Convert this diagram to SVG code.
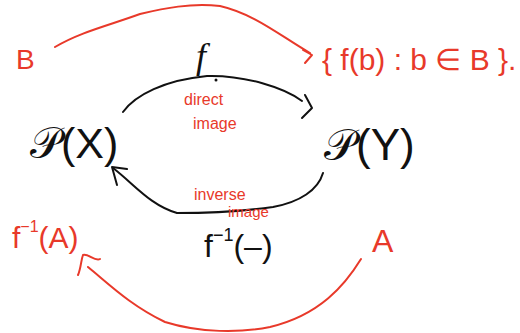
<svg xmlns="http://www.w3.org/2000/svg" width="520" height="333" viewBox="0 0 520 333">
<style>
.r{fill:#e8392a;font-family:"Liberation Sans",sans-serif}
.k{fill:#111;font-family:"Liberation Sans",sans-serif}
.rl{fill:none;stroke:#e8392a;stroke-width:2;stroke-linecap:round;stroke-linejoin:round}
.kl{fill:none;stroke:#111;stroke-width:2;stroke-linecap:round;stroke-linejoin:round}
</style>
<rect width="520" height="333" fill="#fff"/>
<g id="connectors">
<path class="rl" d="M55,47 C80,32 110,25 140,14 C165,8 190,3 220,6 C255,14 282,37 310,53"/>
<path class="rl" d="M303,50 L312,55 L305,63"/>
<path class="kl" d="M123,112 C135,95 165,80 207,76 C245,75 285,88 302,101"/>
<path class="kl" d="M305,95 L312,108 L302,118"/>
<path class="kl" d="M323,173 C318,190 300,202 273,207 C245,211 205,213 177,213 C150,205 135,185 113,168"/>
<path class="kl" d="M117,185 L112,167 L127,169"/>
<path class="rl" d="M361,259 C345,285 320,315 270,327 C240,333 200,333 165,322 C130,305 110,285 88,267"/>
<path class="rl" d="M78,275 C81,268 81,260 83,255 C88,253 95,262 100,259"/>
</g>
<g id="B"><text class="r" x="16" y="69" font-size="28">B</text></g>
<g id="setfb"><text class="r" x="322" y="70" font-size="30">{ f(b) : b ∈ B }.</text></g>
<g id="f"><text class="k" x="196" y="68" font-size="36" font-style="italic" style="font-family:'Liberation Serif',serif">f</text><circle cx="216" cy="80" r="1.5" fill="#111"/></g>
<g id="direct"><text class="r" x="184" y="105" font-size="16">direct</text><text class="r" x="193" y="129" font-size="16">image</text></g>
<g id="PX"><text class="k" x="30" y="158" font-size="43">𝒫(X)</text></g>
<g id="PY"><text class="k" x="324" y="160" font-size="44">𝒫(Y)</text></g>
<g id="inverse"><text class="r" x="194" y="200" font-size="16">inverse</text><text class="r" x="228" y="217" font-size="15">image</text></g>
<g id="finv"><text class="k" x="204" y="257" font-size="32">f<tspan font-size="18" dy="-16">−1</tspan><tspan dy="16">(–)</tspan></text></g>
<g id="finvA"><text class="r" x="12" y="248" font-size="30">f<tspan font-size="16" dy="-16">−1</tspan><tspan dy="16">(A)</tspan></text></g>
<g id="A"><text class="r" x="372" y="252" font-size="32">A</text></g>
</svg>
